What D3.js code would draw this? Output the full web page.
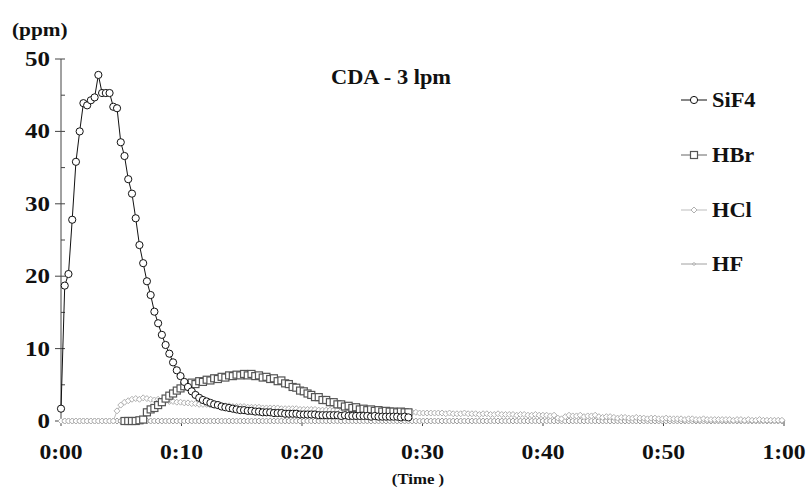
<!DOCTYPE html>
<html>

<head>
	<meta charset="utf-8" />
	<style type="text/css">
		body {
			margin: 0;
			background: #fff;
		}
	</style>
	<title>CDA - 3 lpm</title>
</head>

<body>
	<script src="https://cdn.jsdelivr.net/npm/d3@7"></script>
	<script>
		// sampling step of the analyser, in minutes
		const stepMin = 0.31;

		// tick labels of the time axis (minutes -> label)
		const timeTicks = [0, 10, 20, 30, 40, 50, 60];
		const timeLabels = ["0:00", "0:10", "0:20", "0:30", "0:40", "0:50", "1:00"];
		const ppmTicks = [0, 10, 20, 30, 40, 50];

		const seriesNames = ["SiF4", "HBr", "HCl", "HF"];

		// SiF4, first sample at 0:00
		const sif4Start = 0;
		const sif4 = [
			1.7, 18.7, 20.3, 27.8, 35.8, 40.0, 43.9, 43.6, 44.3, 44.7,
			47.8, 45.3, 45.3, 45.3, 43.4, 43.2, 38.5, 36.6, 33.4, 31.4,
			28.0, 24.3, 21.8, 19.3, 17.4, 15.1, 13.5, 11.9, 10.5, 9.3,
			8.1, 7.0, 6.2, 5.4, 4.7, 4.1, 3.6, 3.2, 2.9, 2.7,
			2.5, 2.3, 2.2, 2.0, 1.9, 1.8, 1.7, 1.6, 1.5, 1.5,
			1.4, 1.4, 1.3, 1.3, 1.2, 1.2, 1.2, 1.1, 1.1, 1.1,
			1.0, 1.0, 1.0, 1.0, 0.9, 0.9, 0.9, 0.9, 0.9, 0.8,
			0.8, 0.8, 0.8, 0.8, 0.8, 0.7, 0.8, 0.7, 0.7, 0.7,
			0.7, 0.7, 0.7, 0.6, 0.7, 0.6, 0.6, 0.6, 0.6, 0.6,
			0.6, 0.5, 0.6, 0.5
		];

		// HBr, first sample at sample #17
		const hbrStart = 17;
		const hbr = [
			0, 0, 0, 0, 0.1, 0.2, 1.2, 1.6, 1.8, 2.2,
			2.6, 3.1, 3.5, 3.8, 4.2, 4.5, 4.8, 5.0, 5.3, 5.1,
			5.5, 5.4, 5.7, 5.6, 5.9, 5.8, 6.1, 6.0, 6.3, 6.2,
			6.4, 6.3, 6.5, 6.3, 6.5, 6.2, 6.3, 6.0, 6.1, 5.8,
			5.9, 5.5, 5.6, 5.2, 5.1, 4.7, 4.6, 4.2, 4.1, 3.8,
			3.6, 3.3, 3.3, 2.9, 2.9, 2.6, 2.6, 2.3, 2.3, 2.0,
			2.1, 1.8, 1.9, 1.6, 1.7, 1.5, 1.6, 1.4, 1.5, 1.3,
			1.4, 1.3, 1.3, 1.2, 1.3, 1.2, 1.2
		];

		// HCl, first sample at 0:00
		const hclStart = 0;
		const hcl = [
			0, 0, 0, 0, 0, 0, 0, 0, 0, 0,
			0, 0, 0, 0, 0, 1.4, 2.2, 2.6, 2.8, 3.0,
			3.1, 3.0, 3.2, 3.1, 3.0, 2.9, 3.0, 2.8, 2.8, 2.7,
			2.7, 2.6, 2.6, 2.5, 2.5, 2.4, 2.4, 2.3, 2.3, 2.3,
			2.2, 2.2, 2.2, 2.1, 2.1, 2.1, 2.0, 2.0, 2.0, 2.0,
			1.9, 1.9, 1.9, 1.9, 1.8, 1.8, 1.8, 1.8, 1.8, 1.7,
			1.7, 1.7, 1.7, 1.7, 1.6, 1.6, 1.6, 1.6, 1.6, 1.5,
			1.5, 1.5, 1.5, 1.5, 1.5, 1.4, 1.4, 1.4, 1.4, 1.4,
			1.4, 1.3, 1.3, 1.3, 1.3, 1.3, 1.3, 1.3, 1.2, 1.2,
			1.2, 1.2, 1.2, 1.2, 1.2, 1.2, 1.1, 1.1, 1.1, 1.1,
			1.1, 1.1, 1.1, 1.0, 1.1, 1.0, 1.0, 1.0, 1.1, 1.0,
			1.0, 1.0, 0.9, 1.0, 1.0, 0.9, 0.9, 1.0, 0.9, 0.9,
			0.9, 0.9, 0.8, 0.9, 0.9, 0.8, 0.8, 0.9, 0.8, 0.8,
			0.8, 0.7, 0.8, 0.4, 0.3, 0.6, 0.8, 0.7, 0.7, 0.8,
			0.6, 0.7, 0.7, 0.8, 0.6, 0.5, 0.6, 0.6, 0.5, 0.4,
			0.5, 0.5, 0.4, 0.4, 0.5, 0.4, 0.4, 0.3, 0.4, 0.4,
			0.3, 0.3, 0.4, 0.3, 0.3, 0.3, 0.3, 0.2, 0.3, 0.3,
			0.2, 0.2, 0.3, 0.2, 0.2, 0.2, 0.2, 0.2, 0.2, 0.2,
			0.1, 0.2, 0.2, 0.1, 0.2, 0.1, 0.1, 0.2, 0.1, 0.1,
			0.1, 0.1, 0.1, 0.1
		];

		// HF, first sample at 0:00
		const hfStart = 0;
		const hf = [
			0, 0, 0, 0, 0, 0, 0, 0, 0, 0,
			0, 0, 0, 0, 0, 0, 0, 0, 0, 0,
			0, 0, 0, 0, 0, 0, 0, 0, 0, 0,
			0, 0, 0, 0, 0, 0, 0, 0, 0, 0,
			0, 0, 0, 0, 0, 0, 0, 0, 0, 0,
			0, 0, 0, 0, 0, 0, 0, 0, 0, 0,
			0, 0, 0, 0, 0, 0, 0, 0, 0, 0,
			0, 0, 0, 0, 0, 0, 0, 0, 0, 0,
			0, 0, 0, 0, 0, 0, 0, 0, 0, 0,
			0, 0, 0, 0, 0, 0, 0, 0, 0, 0,
			0, 0, 0, 0, 0, 0, 0, 0, 0, 0,
			0, 0, 0, 0, 0, 0, 0, 0, 0, 0,
			0, 0, 0, 0, 0, 0, 0, 0, 0, 0,
			0, 0, 0, 0, 0, 0, 0, 0, 0, 0,
			0, 0, 0, 0, 0, 0, 0, 0, 0, 0,
			0, 0, 0, 0, 0, 0, 0, 0, 0, 0,
			0, 0, 0, 0, 0, 0, 0, 0, 0, 0,
			0, 0, 0, 0, 0, 0, 0, 0, 0, 0,
			0, 0, 0, 0, 0, 0, 0, 0, 0, 0,
			0, 0, 0, 0
		];

		var width = 807, height = 495;
		var serif = "'Liberation Serif', Tinos, 'Times New Roman', Times, 'DejaVu Serif', serif";

		var svg = d3.select("body").append("svg")
			.attr("width", width)
			.attr("height", height);

		var x = d3.scaleLinear().domain([0, 60]).range([61, 784]);
		var y = d3.scaleLinear().domain([0, 50]).range([421, 59]);

		// helper for the bold labels; the original lettering is a bit wide (sx)
		function label(px, py, txt, anchor, size, sx) {
			return svg.append("text")
				.attr("transform", `translate(${px},${py}) scale(${sx || 1.12},1)`)
				.attr("text-anchor", anchor || "start")
				.attr("font-family", serif)
				.attr("font-weight", "bold")
				.attr("font-size", (size || 20) + "px")
				.attr("fill", "#111")
				.text(txt);
		}

		// ---- axes
		var axisColor = "#444";
		svg.append("line")
			.attr("x1", x(0)).attr("x2", x(0))
			.attr("y1", y(50)).attr("y2", y(0))
			.attr("stroke", axisColor);
		svg.append("line")
			.attr("x1", x(0)).attr("x2", x(60))
			.attr("y1", y(0)).attr("y2", y(0))
			.attr("stroke", axisColor);

		// y ticks: majors cross the axis, minors inside only
		svg.selectAll(".ymaj").data(ppmTicks).join("line")
			.attr("x1", x(0) - 6).attr("x2", x(0) + 4)
			.attr("y1", d => y(d)).attr("y2", d => y(d))
			.attr("stroke", axisColor);
		svg.selectAll(".ymin").data(ppmTicks.slice(0, -1)).join("line")
			.attr("x1", x(0)).attr("x2", x(0) + 4)
			.attr("y1", d => y(d + 5)).attr("y2", d => y(d + 5))
			.attr("stroke", axisColor);
		ppmTicks.forEach(d => label(50, y(d) + 7, d, "end", 20, 1.25));

		// x ticks
		svg.selectAll(".xmaj").data(timeTicks).join("line")
			.attr("x1", d => x(d)).attr("x2", d => x(d))
			.attr("y1", y(0)).attr("y2", y(0) + 5)
			.attr("stroke", axisColor);
		timeTicks.forEach((d, i) => label(x(d), 459, timeLabels[i], "middle", 20, 1.18));

		label(12, 36, "(ppm)", "start", 19);
		label(418, 484, "(Time )", "middle", 15);
		label(331, 84, "CDA - 3 lpm", "start", 20);

		// ---- series
		function points(values, start) {
			return values.map((v, i) => ({ t: (start + i) * stepMin, v: v }));
		}

		var styles = {
			SiF4: { data: points(sif4, sif4Start), line: "#111", mark: "circle", stroke: "#111", size: 3.6 },
			HBr: { data: points(hbr, hbrStart), line: "#666", mark: "square", stroke: "#555", size: 7 },
			HCl: { data: points(hcl, hclStart), line: "#bdbdbd", mark: "diamond", stroke: "#b0b0b0", size: 6 },
			HF: { data: points(hf, hfStart), line: "#a0a0a0", mark: "diamond", stroke: "#9c9c9c", size: 6 }
		};

		var line = d3.line().x(d => x(d.t)).y(d => y(d.v));

		function drawMark(g, kind, px, py, s, stroke) {
			if (kind === "circle") {
				g.append("circle").attr("cx", px).attr("cy", py).attr("r", s)
					.attr("fill", "#fff").attr("stroke", stroke).attr("stroke-width", 1);
			} else if (kind === "square") {
				g.append("rect").attr("x", px - s / 2).attr("y", py - s / 2)
					.attr("width", s).attr("height", s)
					.attr("fill", "#fff").attr("stroke", stroke).attr("stroke-width", 1.2);
			} else {
				g.append("path")
					.attr("d", `M${px},${py - s / 2}L${px + s / 2},${py}L${px},${py + s / 2}L${px - s / 2},${py}Z`)
					.attr("fill", "#fff").attr("stroke", stroke).attr("stroke-width", 1);
			}
		}

		// draw from back to front
		["HF", "HCl", "HBr", "SiF4"].forEach(name => {
			var st = styles[name];
			var g = svg.append("g").attr("class", name);
			g.append("path")
				.datum(st.data)
				.attr("d", line)
				.attr("fill", "none")
				.attr("stroke", st.line)
				.attr("stroke-width", 1);
			st.data.forEach(d => drawMark(g, st.mark, x(d.t), y(d.v), st.size, st.stroke));
		});

		// ---- legend
		var legendY = [100, 155, 210, 264];
		seriesNames.forEach((name, i) => {
			var st = styles[name];
			var g = svg.append("g");
			g.append("line")
				.attr("x1", 681).attr("x2", 707)
				.attr("y1", legendY[i]).attr("y2", legendY[i])
				.attr("stroke", st.line);
			drawMark(g, st.mark, 694, legendY[i], name === "HF" ? 3 : st.size, st.stroke);
			label(712, legendY[i] + 7, name, "start", 20);
		});
	</script>
</body>

</html>
